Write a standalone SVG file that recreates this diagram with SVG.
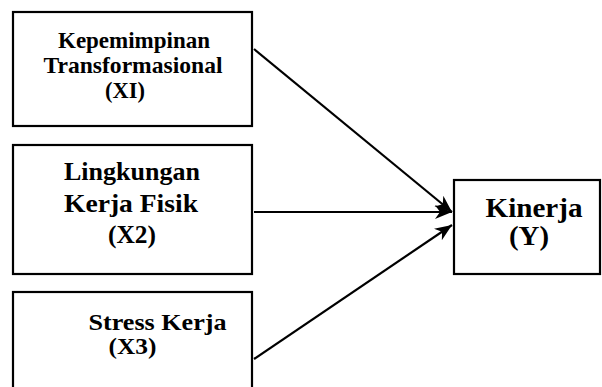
<svg xmlns="http://www.w3.org/2000/svg" width="602" height="387" viewBox="0 0 602 387">
<style>
.box{fill:#fff;stroke:#000;stroke-width:2.2}
.t{font-family:"Liberation Serif","Times New Roman",serif;font-weight:bold;fill:#000;text-anchor:middle}
.c{stroke:#000;stroke-width:2.2;fill:none}
</style>
<defs>
<marker id="ah" markerUnits="userSpaceOnUse" markerWidth="18" markerHeight="16" viewBox="0 0 18 16" refX="17" refY="8" orient="auto">
<path d="M0,1 L17,8 L0,15 L5,8 z" fill="#000"/>
</marker>
</defs>
<rect width="602" height="387" fill="#fff"/>
<g id="x1">
<rect class="box" x="13" y="12" width="239" height="114"/>
<text class="t" font-size="23.5" x="134" y="48" textLength="152" lengthAdjust="spacingAndGlyphs">Kepemimpinan</text>
<text class="t" font-size="23.5" x="133" y="72.5" textLength="179" lengthAdjust="spacingAndGlyphs">Transformasional</text>
<text class="t" font-size="23.5" x="125" y="97.5" textLength="40" lengthAdjust="spacingAndGlyphs">(XI)</text>
</g>
<g id="x2">
<rect class="box" x="13" y="145" width="239" height="129"/>
<text class="t" font-size="26" x="132" y="180" textLength="136" lengthAdjust="spacingAndGlyphs">Lingkungan</text>
<text class="t" font-size="26" x="131" y="211.5" textLength="134" lengthAdjust="spacingAndGlyphs">Kerja Fisik</text>
<text class="t" font-size="26" x="132" y="243" textLength="48" lengthAdjust="spacingAndGlyphs">(X2)</text>
</g>
<g id="x3">
<rect class="box" x="13" y="292" width="239" height="110"/>
<text class="t" font-size="24" x="157.5" y="330" textLength="138" lengthAdjust="spacingAndGlyphs">Stress Kerja</text>
<text class="t" font-size="24" x="132.5" y="353.5" textLength="48" lengthAdjust="spacingAndGlyphs">(X3)</text>
</g>
<g id="y">
<rect class="box" x="454" y="180" width="146" height="94"/>
<text class="t" font-size="27" x="534" y="217" textLength="97" lengthAdjust="spacingAndGlyphs">Kinerja</text>
<text class="t" font-size="27" x="529" y="245" textLength="40" lengthAdjust="spacingAndGlyphs">(Y)</text>
</g>
<g id="connectors">
<line class="c" x1="254" y1="49" x2="452" y2="212" marker-end="url(#ah)"/>
<line class="c" x1="254" y1="212" x2="452" y2="212" marker-end="url(#ah)"/>
<line class="c" x1="254" y1="359" x2="452" y2="225" marker-end="url(#ah)"/>
</g>
</svg>
